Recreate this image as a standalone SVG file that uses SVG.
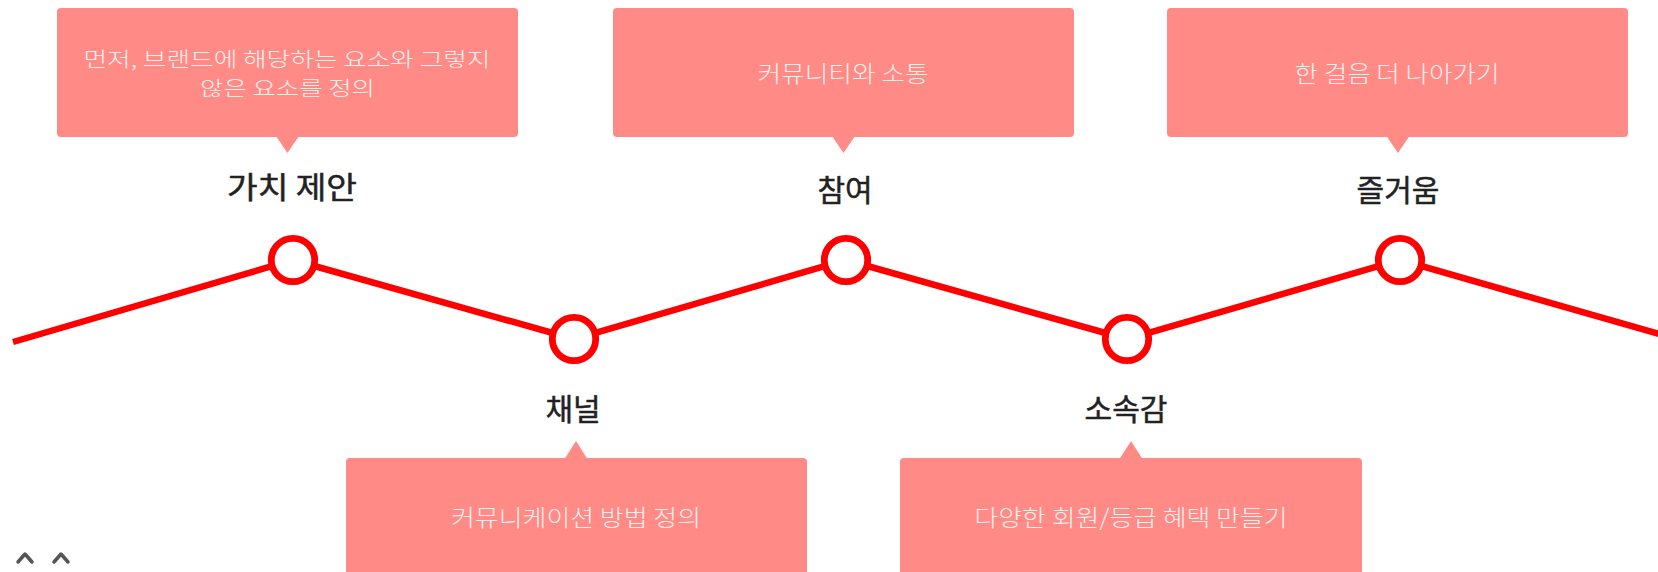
<svg xmlns="http://www.w3.org/2000/svg" width="1658" height="572" viewBox="0 0 1658 572">
<style>
.box{fill:#ff8a86}
.btxt{font-family:"Noto Sans CJK KR","Noto Sans",sans-serif;font-size:23px;font-weight:300;fill:#fff0ee;text-anchor:middle}
.btxt2{font-size:20.5px}
.title{font-family:"Noto Sans CJK KR","Noto Sans",sans-serif;font-size:30px;font-weight:400;fill:#222;stroke:#222;stroke-width:0.5;text-anchor:middle}
.node{fill:#fff;stroke:#ff0000;stroke-width:6.8}
.conn{fill:none;stroke:#ff0000;stroke-width:6.5}
.chev{fill:none;stroke:#555;stroke-width:3.5;stroke-linecap:round;stroke-linejoin:round}
</style>
<g id="connectors">
<polyline class="conn" points="13,342 293,260 574,339 846,260 1127,339 1400,260 1666,336"/>
</g>
<g id="node-1">
<rect class="box" x="57" y="8" width="461" height="129" rx="4"/>
<polygon class="box" points="276,136 299,136 287.5,153"/>
<text class="btxt btxt2" x="287" y="66.5" textLength="407" lengthAdjust="spacingAndGlyphs">먼저, 브랜드에 해당하는 요소와 그렇지</text>
<text class="btxt btxt2" x="287.5" y="96" textLength="175" lengthAdjust="spacingAndGlyphs">않은 요소를 정의</text>
<text class="title" x="292" y="198" textLength="130" lengthAdjust="spacingAndGlyphs">가치 제안</text>
<circle class="node" cx="293" cy="260" r="21.7"/>
</g>
<g id="node-2">
<rect class="box" x="346" y="458" width="461" height="135" rx="4"/>
<polygon class="box" points="564.5,459 587.5,459 576,441"/>
<text class="btxt" x="576" y="526" textLength="250" lengthAdjust="spacingAndGlyphs">커뮤니케이션 방법 정의</text>
<text class="title" x="573" y="420">채널</text>
<circle class="node" cx="574" cy="339" r="21.7"/>
</g>
<g id="node-3">
<rect class="box" x="613" y="8" width="461" height="129" rx="4"/>
<polygon class="box" points="832,136 855,136 843.5,153"/>
<text class="btxt" x="843" y="82" textLength="171" lengthAdjust="spacingAndGlyphs">커뮤니티와 소통</text>
<text class="title" x="845" y="201">참여</text>
<circle class="node" cx="846" cy="260" r="21.7"/>
</g>
<g id="node-4">
<rect class="box" x="900" y="458" width="462" height="135" rx="4"/>
<polygon class="box" points="1119.5,459 1142.5,459 1131,441"/>
<text class="btxt" x="1131" y="526" textLength="313" lengthAdjust="spacingAndGlyphs">다양한 회원/등급 혜택 만들기</text>
<text class="title" x="1126" y="420">소속감</text>
<circle class="node" cx="1127" cy="339" r="21.7"/>
</g>
<g id="node-5">
<rect class="box" x="1167" y="8" width="461" height="129" rx="4"/>
<polygon class="box" points="1386.5,136 1409.5,136 1398,153"/>
<text class="btxt" x="1397" y="82" textLength="205" lengthAdjust="spacingAndGlyphs">한 걸음 더 나아가기</text>
<text class="title" x="1398" y="201">즐거움</text>
<circle class="node" cx="1400" cy="260" r="21.7"/>
</g>
<g id="controls">
<polyline class="chev" points="18,562 25,554 32,562"/>
<polyline class="chev" points="54,562 61,554 68,562"/>
</g>
</svg>
